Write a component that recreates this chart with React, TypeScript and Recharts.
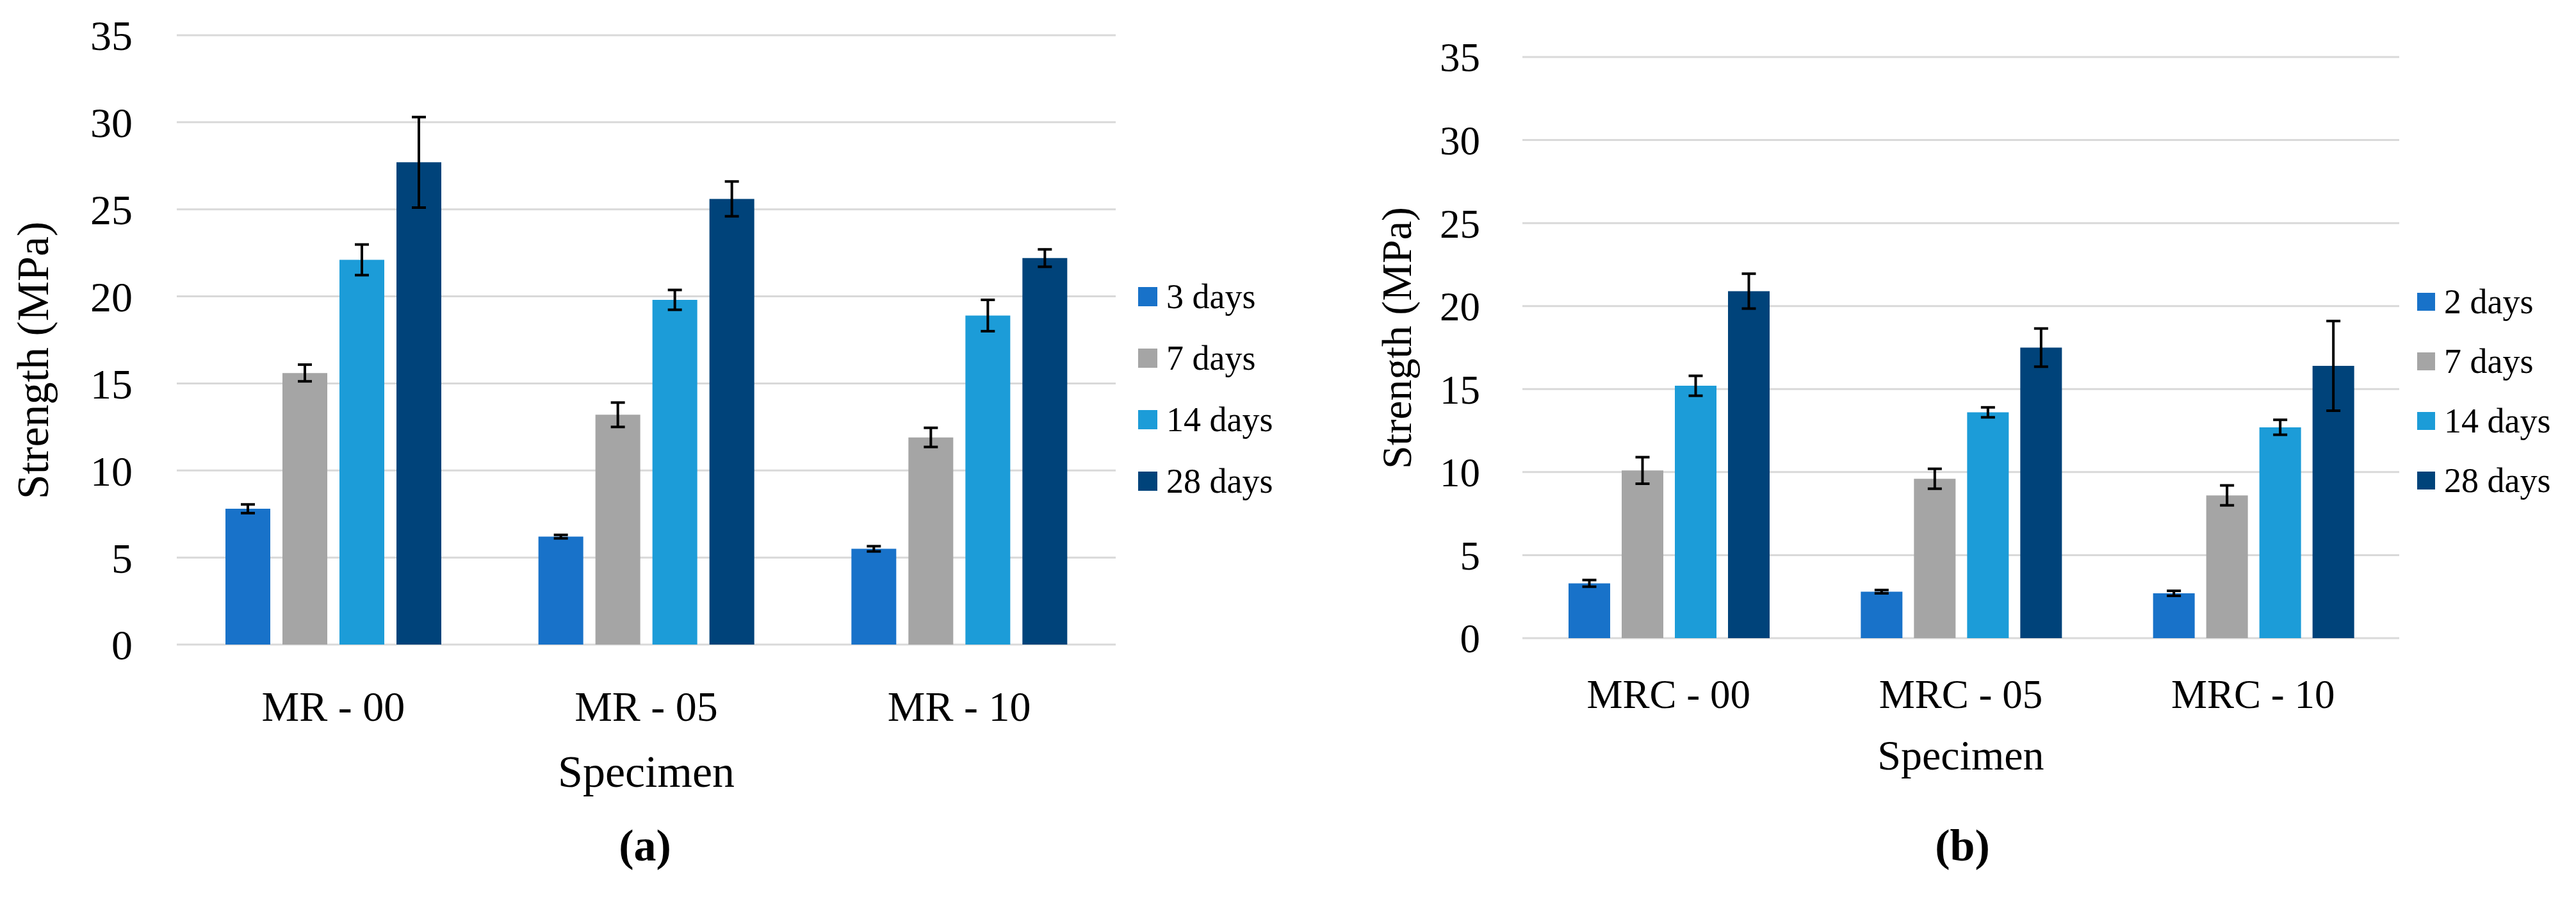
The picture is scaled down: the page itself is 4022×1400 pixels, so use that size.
import { BarChart, Bar, XAxis, YAxis, CartesianGrid, Legend, ErrorBar } from "recharts";

const FONT = '"Liberation Serif", "Times New Roman", serif';

const yTicks = [0, 5, 10, 15, 20, 25, 30, 35];
const seriesColors = ["#1872C9", "#A5A5A5", "#1C9CD8", "#00437A"];

// (a) MR specimens
const mrCategories = ["MR - 00", "MR - 05", "MR - 10"];
const mrSeries = ["3 days", "7 days", "14 days", "28 days"];
const mr3 = [7.8, 6.2, 5.5];
const mr7 = [15.6, 13.2, 11.9];
const mr14 = [22.1, 19.8, 18.9];
const mr28 = [27.7, 25.6, 22.2];
const mr3Err = [0.25, 0.1, 0.15];
const mr7Err = [0.48, 0.7, 0.55];
const mr14Err = [0.88, 0.57, 0.9];
const mr28Err = [2.6, 1.0, 0.5];

// (b) MRC specimens
const mrcCategories = ["MRC - 00", "MRC - 05", "MRC - 10"];
const mrcSeries = ["2 days", "7 days", "14 days", "28 days"];
const mrc2 = [3.3, 2.8, 2.7];
const mrc7 = [10.1, 9.6, 8.6];
const mrc14 = [15.2, 13.6, 12.7];
const mrc28 = [20.9, 17.5, 16.4];
const mrc2Err = [0.2, 0.1, 0.15];
const mrc7Err = [0.8, 0.6, 0.6];
const mrc14Err = [0.6, 0.3, 0.45];
const mrc28Err = [1.05, 1.15, 2.7];

function buildRows(categories: string[], values: number[][], errors: number[][]) {
  return categories.map((name, i) => {
    const row: Record<string, any> = { name };
    values.forEach((v, k) => {
      row["v" + k] = v[i];
      row["e" + k] = errors[k][i];
    });
    return row;
  });
}

type ChartProps = {
  left: number;
  width: number;
  top: number;
  plotBottom: number;
  plotRight: number;
  yAxisWidth: number;
  xAxisHeight: number;
  tickFont: number;
  yTickGap: number;
  xTickGap: number;
  titleFont: number;
  yTitleX: number;
  yTitleShift: number;
  xTitleBaseline: number;
  legendLeft: number;
  legendTop: number;
  legendRow: number;
  legendBox: number;
  legendFont: number;
  catGap: number;
  barGap: number;
  categories: string[];
  series: string[];
  values: number[][];
  errors: number[][];
};

function StrengthChart(p: ChartProps) {
  const height = 1400;
  const data = buildRows(p.categories, p.values, p.errors);

  // legend keeps the series order (Recharts sorts its payload by name)
  const legendContent = (props: any) => {
    const payload: any[] = props.payload || [];
    const ordered = p.series
      .map((s) => payload.find((e) => e.value === s))
      .filter(Boolean);
    return (
      <div style={{ fontFamily: FONT, fontSize: p.legendFont, color: "#000" }}>
        {ordered.map((entry: any) => (
          <div
            key={entry.value}
            style={{ display: "flex", alignItems: "center", height: p.legendRow, whiteSpace: "nowrap" }}
          >
            <span
              style={{
                display: "inline-block",
                width: p.legendBox,
                height: p.legendBox,
                background: entry.color,
                marginRight: 14,
              }}
            />
            <span>{entry.value}</span>
          </div>
        ))}
      </div>
    );
  };

  return (
    <div style={{ position: "absolute", left: p.left, top: 0 }}>
      <BarChart
        width={p.width}
        height={height}
        data={data}
        margin={{
          top: p.top,
          right: p.width - p.plotRight,
          left: 0,
          bottom: height - p.plotBottom - p.xAxisHeight,
        }}
        barCategoryGap={p.catGap}
        barGap={p.barGap}
      >
        <CartesianGrid vertical={false} stroke="#D9D9D9" strokeWidth={3} />
        <XAxis
          dataKey="name"
          height={p.xAxisHeight}
          axisLine={false}
          tickLine={false}
          tickSize={0}
          tickMargin={p.xTickGap}
          tick={{ fill: "#000", fontSize: p.tickFont, fontFamily: FONT }}
          label={{
            content: (lp: any) => {
              const vb = lp.viewBox;
              return (
                <text
                  x={vb.x + vb.width / 2}
                  y={vb.y + p.xTitleBaseline}
                  textAnchor="middle"
                  fontSize={p.titleFont}
                  fontFamily={FONT}
                  fill="#000"
                >
                  Specimen
                </text>
              );
            },
          }}
        />
        <YAxis
          width={p.yAxisWidth}
          domain={[0, 35]}
          ticks={yTicks}
          axisLine={false}
          tickLine={false}
          tickSize={0}
          tickMargin={p.yTickGap}
          tick={{ fill: "#000", fontSize: p.tickFont, fontFamily: FONT }}
          label={{
            content: (lp: any) => {
              const vb = lp.viewBox;
              const cx = vb.x + p.yTitleX;
              const cy = vb.y + vb.height / 2 + p.yTitleShift;
              return (
                <text
                  x={cx}
                  y={cy}
                  transform={`rotate(-90, ${cx}, ${cy})`}
                  textAnchor="middle"
                  fontSize={p.titleFont}
                  fontFamily={FONT}
                  fill="#000"
                >
                  Strength (MPa)
                </text>
              );
            },
          }}
        />
        <Legend
          layout="vertical"
          align="center"
          verticalAlign="middle"
          content={legendContent}
          wrapperStyle={{ left: p.legendLeft, top: p.legendTop, width: "auto", height: "auto" }}
        />
        {p.series.map((s, k) => (
          <Bar key={s} dataKey={"v" + k} name={s} fill={seriesColors[k]} isAnimationActive={false}>
            <ErrorBar dataKey={"e" + k} width={11} strokeWidth={4} stroke="#000" isAnimationActive={false} />
          </Bar>
        ))}
      </BarChart>
    </div>
  );
}

export default function App() {
  return (
    <div
      style={{
        position: "absolute",
        left: 0,
        top: 0,
        width: 4022,
        height: 1400,
        background: "#fff",
        fontFamily: FONT,
      }}
    >
      <StrengthChart
        left={0}
        width={2050}
        top={55}
        plotBottom={1006}
        plotRight={1742}
        yAxisWidth={276}
        xAxisHeight={172}
        tickFont={66}
        yTickGap={69}
        xTickGap={72}
        titleFont={70}
        yTitleX={75}
        yTitleShift={32}
        xTitleBaseline={222}
        legendLeft={1777}
        legendTop={415}
        legendRow={96}
        legendBox={30}
        legendFont={54}
        catGap={76}
        barGap={19}
        categories={mrCategories}
        series={mrSeries}
        values={[mr3, mr7, mr14, mr28]}
        errors={[mr3Err, mr7Err, mr14Err, mr28Err]}
      />
      <StrengthChart
        left={2050}
        width={1972}
        top={89}
        plotBottom={996}
        plotRight={1696}
        yAxisWidth={327}
        xAxisHeight={160}
        tickFont={63}
        yTickGap={66}
        xTickGap={64}
        titleFont={66}
        yTitleX={153}
        yTitleShift={-15}
        xTitleBaseline={205}
        legendLeft={1724}
        legendTop={424}
        legendRow={93}
        legendBox={28}
        legendFont={54}
        catGap={72}
        barGap={18}
        categories={mrcCategories}
        series={mrcSeries}
        values={[mrc2, mrc7, mrc14, mrc28]}
        errors={[mrc2Err, mrc7Err, mrc14Err, mrc28Err]}
      />
      <div
        style={{
          position: "absolute",
          left: 907,
          top: 1285,
          width: 200,
          textAlign: "center",
          fontSize: 70,
          lineHeight: 1,
          fontWeight: "bold",
        }}
      >
        (<span>a</span>)
      </div>
      <div
        style={{
          position: "absolute",
          left: 2964,
          top: 1285,
          width: 200,
          textAlign: "center",
          fontSize: 70,
          lineHeight: 1,
          fontWeight: "bold",
        }}
      >
        (<span>b</span>)
      </div>
    </div>
  );
}
